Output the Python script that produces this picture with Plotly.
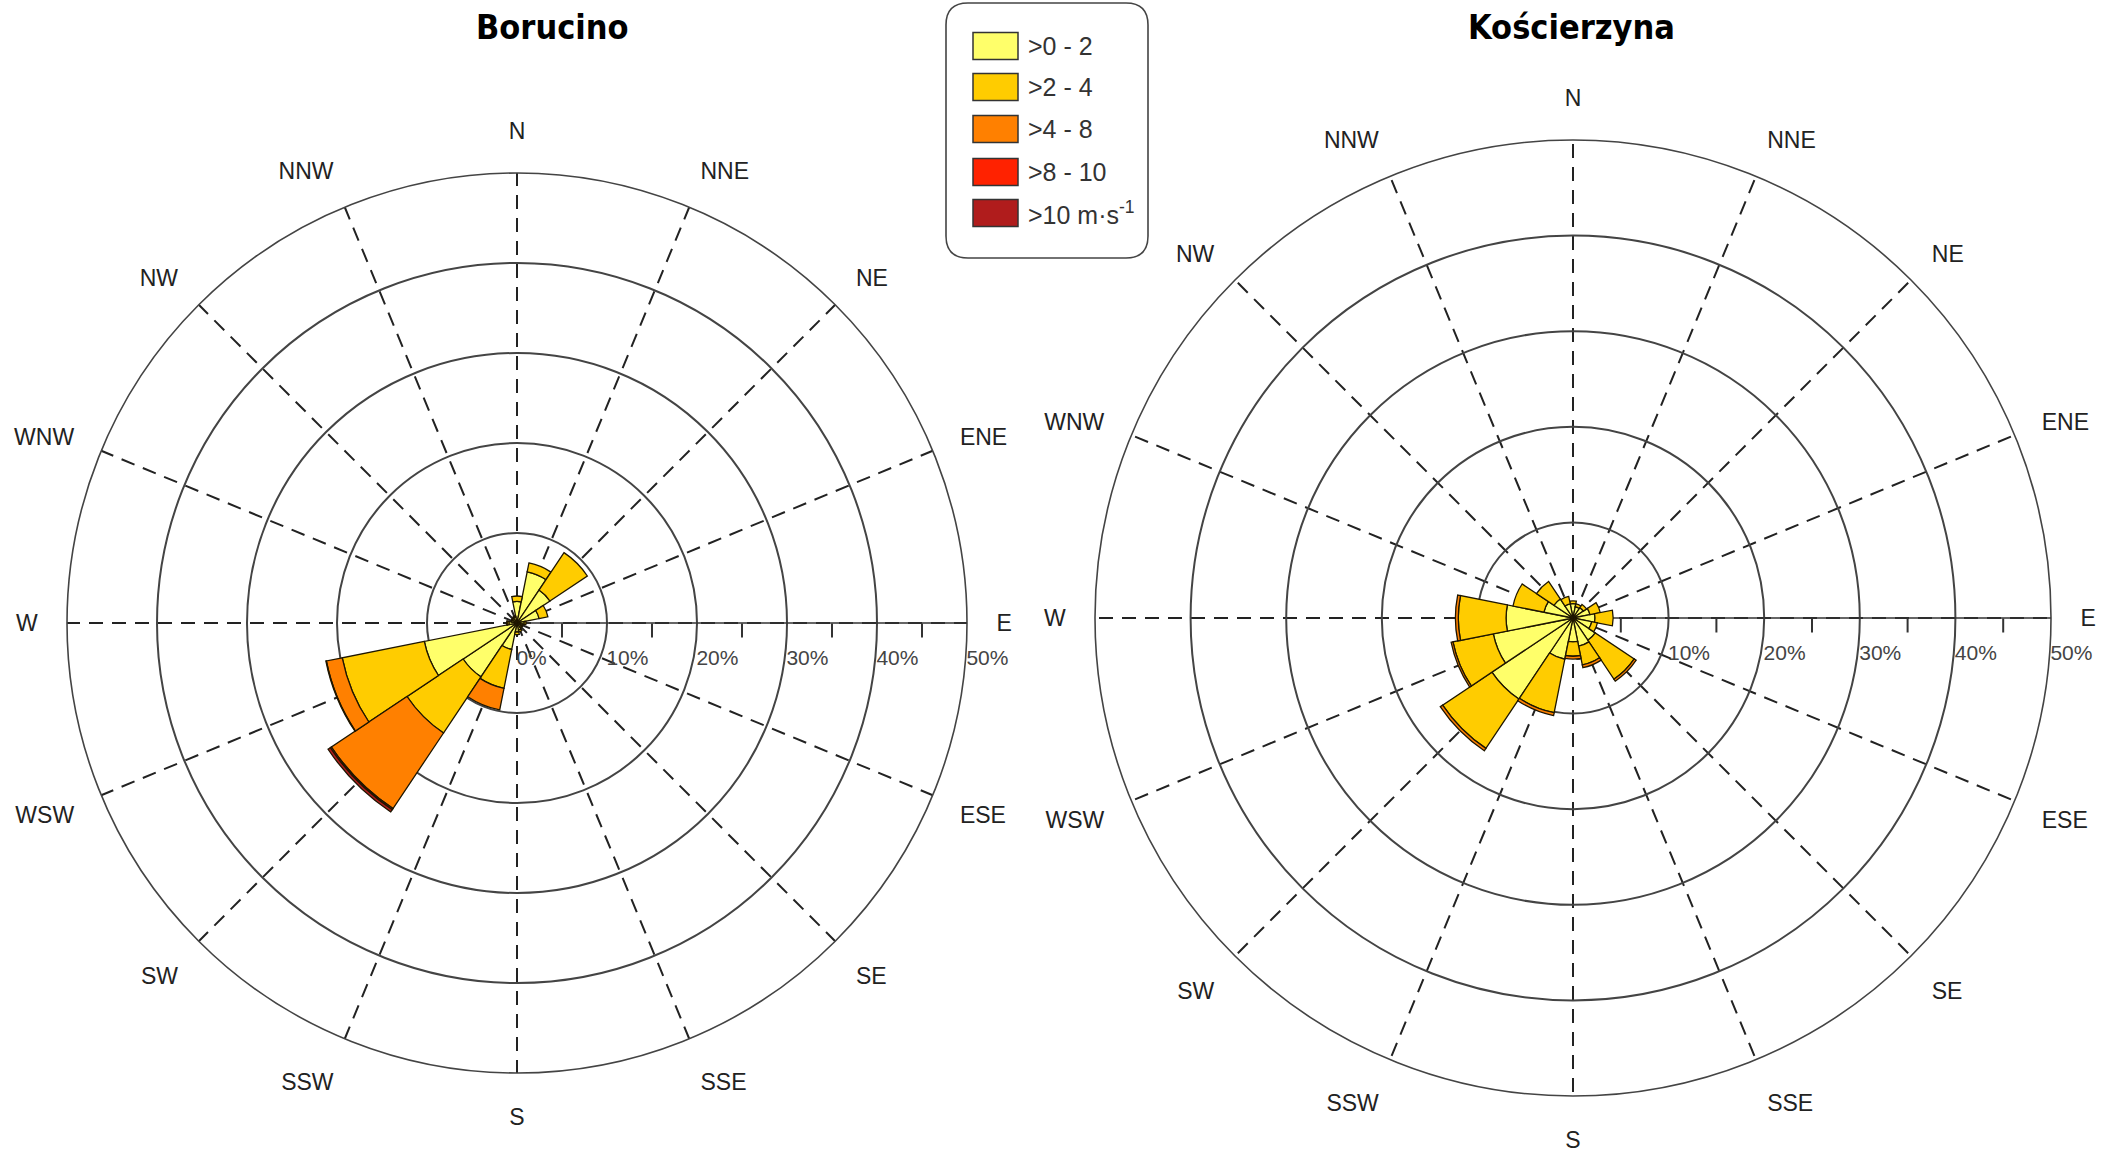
import plotly.graph_objects as go

W, H = 2111, 1157

directions = ["N", "NNE", "NE", "ENE", "E", "ESE", "SE", "SSE",
              "S", "SSW", "SW", "WSW", "W", "WNW", "NW", "NNW"]

classes = [">0 - 2", ">2 - 4", ">4 - 8", ">8 - 10", ">10 m·s<sup>-1</sup>"]
colors = ["#ffff6a", "#ffcc00", "#ff8000", "#ff2200", "#b01c1c"]

# Borucino, % of observations per speed class
bor_0_2 = [2.4, 5.8, 4.4, 2.5, 0.8, 0.6, 0.6, 0.8, 1.0, 3.0, 7.2, 10.5, 0.9, 0.6, 0.6, 0.7]
bor_2_4 = [0.6, 1.0, 5.0, 1.0, 0.2, 0.1, 0.1, 0.2, 0.3, 4.4, 7.5, 9.3, 0.2, 0.1, 0.1, 0.1]
bor_4_8 = [0, 0, 0, 0, 0, 0, 0, 0, 0, 2.45, 10.1, 1.8, 0.05, 0, 0, 0]
bor_8_10 = [0, 0, 0, 0, 0, 0, 0, 0, 0, 0, 0.15, 0.05, 0, 0, 0, 0]
bor_10 = [0, 0, 0, 0, 0, 0, 0, 0, 0, 0, 0.3, 0, 0, 0, 0, 0]

# Koscierzyna
kos_0_2 = [1.5, 1.2, 1.3, 1.8, 2.3, 2.0, 2.8, 3.0, 2.5, 4.4, 10.2, 8.5, 7.0, 3.1, 2.4, 1.5]
kos_2_4 = [0.3, 0.3, 0.4, 1.1, 1.9, 0.6, 4.9, 2.0, 1.5, 5.7, 6.2, 4.3, 5.0, 3.3, 2.2, 0.8]
kos_4_8 = [0, 0, 0, 0, 0, 0, 0.25, 0.3, 0.3, 0.3, 0.3, 0.2, 0.3, 0, 0, 0]
kos_8_10 = [0] * 16
kos_10 = [0] * 16

radial_ticks = [0, 10, 20, 30, 40, 50]
minor_ticks = [5, 15, 25, 35, 45]
tick_labels = ["0%", "10%", "20%", "30%", "40%", "50%"]

stations = [
    ("Borucino", [bor_0_2, bor_2_4, bor_4_8, bor_8_10, bor_10], (517, 623, 450)),
    ("Kościerzyna", [kos_0_2, kos_2_4, kos_4_8, kos_8_10, kos_10], (1573, 618, 478)),
]

TXT = "Liberation Sans, Arial, sans-serif"
TITLE = "DejaVu Sans Condensed, Liberation Sans Narrow, Arial Narrow, sans-serif"

fig = go.Figure()
layout = {}
annotations = []
shapes = []

for i, (name, series, (cx, cy, rad)) in enumerate(stations):
    pid = "polar" if i == 0 else "polar%d" % (2 * i + 1)
    tid = "polar%d" % (2 * i + 2)
    for cls, vals, col in zip(classes, series, colors):
        fig.add_trace(go.Barpolar(
            r=vals, theta=directions, name=cls, subplot=pid,
            marker=dict(color=col, line=dict(color="#1e1600", width=1.3)),
            showlegend=False,
        ))
    fig.add_trace(go.Scatterpolar(r=[], theta=[], subplot=tid, showlegend=False))

    dom = dict(x=[(cx - rad) / W, (cx + rad) / W],
               y=[(H - cy - rad) / H, (H - cy + rad) / H])
    pad = ["\u00a0" * n + t for n, t in zip([5, 7, 7, 7, 7, 7], tick_labels)]
    layout[pid] = dict(
        domain=dom, bgcolor="white", barmode="stack", bargap=0,
        angularaxis=dict(
            type="category", categoryarray=directions, rotation=90,
            direction="clockwise", showline=True, linecolor="#444", linewidth=1.6,
            showgrid=True, gridcolor="#222", gridwidth=1.8, griddash="14px,9px",
            ticks="outside", ticklen=24, tickcolor="rgba(0,0,0,0)",
            tickfont=dict(family=TXT, size=23, color="#222"),
            layer="below traces",
        ),
        radialaxis=dict(
            range=[0, 50], angle=0, tickangle=0, tickvals=radial_ticks, ticktext=pad,
            showgrid=True, gridcolor="#444", gridwidth=1.5,
            showline=True, linecolor="#333", linewidth=1.5,
            ticks="outside", ticklen=16, tickcolor="rgba(0,0,0,0)",
            tickfont=dict(family=TXT, size=21, color="#444"),
            layer="below traces",
        ),
    )
    layout[tid] = dict(
        domain=dom, bgcolor="rgba(0,0,0,0)",
        angularaxis=dict(visible=False, rotation=90, direction="clockwise"),
        radialaxis=dict(
            range=[0, 50], angle=0, tickangle=0, tickvals=minor_ticks,
            showticklabels=False, showgrid=False, showline=False,
            ticks="outside", ticklen=14, tickcolor="#333", tickwidth=1.5,
        ),
    )
    title_x = 552 if i == 0 else 1571
    annotations.append(dict(
        text="<b>%s</b>" % name, x=title_x / W, y=1 - 27 / H, xref="paper", yref="paper",
        xanchor="center", yanchor="middle", showarrow=False,
        font=dict(family=TITLE, size=34, color="black", weight=900),
    ))

# legend box
def px(x, y):
    return x / W, 1 - y / H

L, R, T, B, rr = 946, 1148, 3, 258, 22
p = [px(L + rr, T), px(R - rr, T), px(R, T), px(R, T + rr), px(R, B - rr), px(R, B),
     px(R - rr, B), px(L + rr, B), px(L, B), px(L, B - rr), px(L, T + rr), px(L, T)]
path = ("M{0[0]},{0[1]} L{1[0]},{1[1]} Q{2[0]},{2[1]} {3[0]},{3[1]} L{4[0]},{4[1]} "
        "Q{5[0]},{5[1]} {6[0]},{6[1]} L{7[0]},{7[1]} Q{8[0]},{8[1]} {9[0]},{9[1]} "
        "L{10[0]},{10[1]} Q{11[0]},{11[1]} {0[0]},{0[1]} Z").format(*p)
shapes.append(dict(type="path", xref="paper", yref="paper", path=path,
                   line=dict(color="#444", width=1.6), fillcolor="white"))

legend_y = [46, 87, 129, 172, 213]
for cls, col, yc in zip(classes, colors, legend_y):
    x0, y0 = px(973, yc - 13.5)
    x1, y1 = px(1018, yc + 13.5)
    shapes.append(dict(type="rect", xref="paper", yref="paper", x0=x0, x1=x1, y0=y1, y1=y0,
                       fillcolor=col, line=dict(color="#333", width=1.5)))
    annotations.append(dict(
        text=cls, x=1026 / W, y=1 - yc / H, xref="paper", yref="paper",
        xanchor="left", yanchor="middle", showarrow=False,
        font=dict(family=TXT, size=25, color="#333"),
    ))

fig.update_layout(
    width=W, height=H, margin=dict(l=0, r=0, t=0, b=0),
    paper_bgcolor="white", showlegend=False,
    annotations=annotations, shapes=shapes, **layout,
)

fig.write_html("out.html", config={"displayModeBar": False},
               post_script="document.body.style.margin='0';")
